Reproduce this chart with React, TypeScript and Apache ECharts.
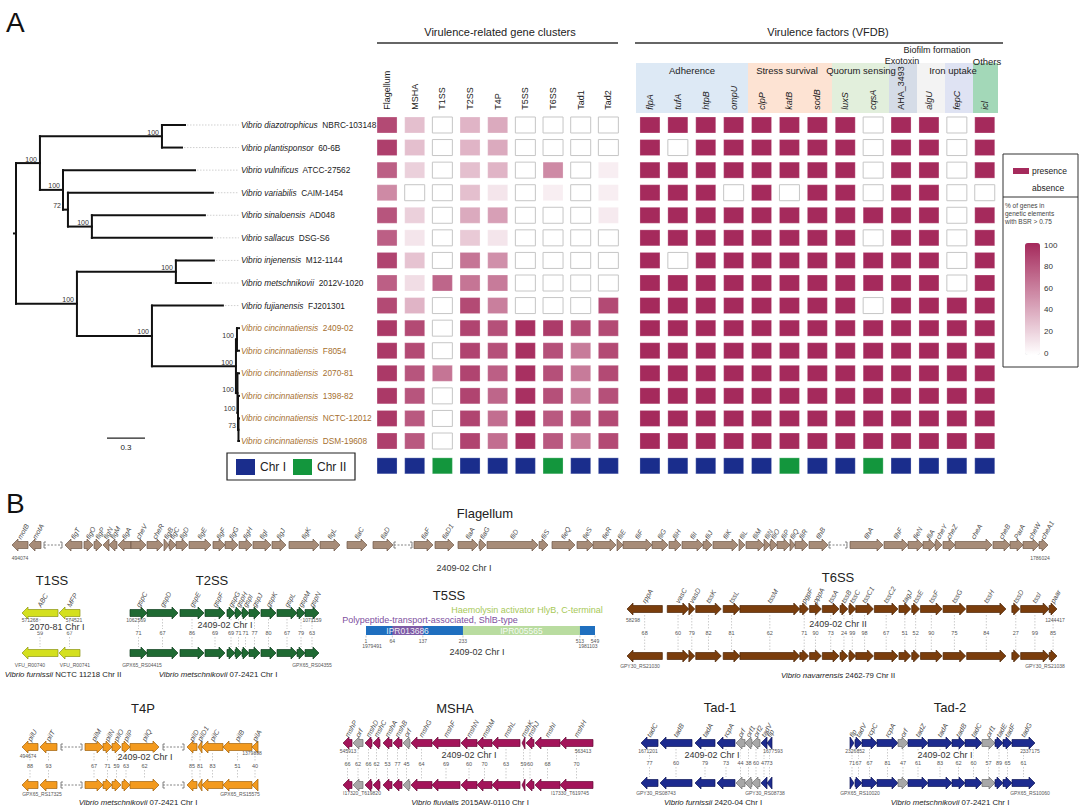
import React, { useEffect, useRef } from 'react';
import * as echarts from 'echarts';

const FONT = '"Liberation Sans", Arial, Helvetica, sans-serif';

// ================= Panel A data =================
const speciesNames = [
  'Vibrio diazotrophicus', 'Vibrio plantisponsor', 'Vibrio vulnificus', 'Vibrio variabilis',
  'Vibrio sinaloensis', 'Vibrio sallacus', 'Vibrio injenensis', 'Vibrio metschnikovii',
  'Vibrio fujianensis', 'Vibrio cincinnatiensis', 'Vibrio cincinnatiensis', 'Vibrio cincinnatiensis',
  'Vibrio cincinnatiensis', 'Vibrio cincinnatiensis', 'Vibrio cincinnatiensis',
];
const strainNames = [
  'NBRC-103148', '60-6B', 'ATCC-27562', 'CAIM-1454', 'AD048', 'DSG-S6', 'M12-1144', '2012V-1020',
  'FJ201301', '2409-02', 'F8054', '2070-81', '1398-82', 'NCTC-12012', 'DSM-19608',
];
const highlighted = [0, 0, 0, 0, 0, 0, 0, 0, 0, 1, 1, 1, 1, 1, 1];

// phylogeny: branch lengths (substitutions/site) and bootstrap support
type TNode = { len: number; boot?: string; leaf?: number; kids?: TNode[] };
const Lf = (leaf: number, len: number): TNode => ({ leaf, len });
const Nd = (len: number, boot: string, kids: TNode[]): TNode => ({ len, boot, kids });
const tree: TNode = Nd(0, '', [
  Nd(0.189, '100', [
    Nd(0.963, '100', [Lf(0, 0.182), Lf(1, 0.158)]),
    Nd(0.182, '100', [
      Lf(2, 1.042),
      Nd(0.039, '72', [Lf(3, 1.144), Nd(0.189, '100', [Lf(4, 0.892), Lf(5, 0.947)])]),
    ]),
  ]),
  Nd(0.481, '100', [
    Nd(0.781, '100', [Lf(6, 0.3), Lf(7, 0.276)]),
    Nd(0.592, '100', [
      Lf(8, 0.56),
      Nd(0.663, '100', [
        Nd(0.008, '100', [Lf(9, 0.016), Lf(10, 0.016)]),
        Nd(0.012, '100', [
          Lf(11, 0.012),
          Nd(0.004, '100', [Lf(12, 0.008), Nd(0.004, '73', [Lf(13, 0.004), Lf(14, 0.004)])]),
        ]),
      ]),
    ]),
  ]),
]);
const scaleBar = [0.718, 0.3]; // start, length

const clusterCols = ['Flagellum', 'MSHA', 'T1SS', 'T2SS', 'T4P', 'T5SS', 'T6SS', 'Tad1', 'Tad2'];
const clusterValues: number[][] = [
  [85, 30, 0, 35, 40, 0, 0, 0, 0],
  [90, 30, 0, 35, 40, 0, 0, 0, 0],
  [75, 22, 0, 30, 35, 0, 55, 0, 8],
  [55, 0, 0, 30, 12, 0, 8, 0, 8],
  [80, 22, 0, 40, 45, 0, 0, 0, 10],
  [75, 12, 0, 25, 12, 0, 0, 0, 0],
  [88, 28, 0, 65, 52, 0, 0, 0, 0],
  [75, 16, 72, 65, 62, 0, 0, 0, 0],
  [85, 35, 0, 85, 60, 0, 0, 0, 85],
  [93, 85, 0, 88, 82, 97, 92, 85, 85],
  [93, 85, 0, 88, 82, 97, 82, 62, 85],
  [93, 80, 65, 88, 75, 97, 82, 62, 85],
  [93, 80, 0, 88, 72, 97, 82, 62, 82],
  [93, 78, 0, 88, 68, 97, 78, 78, 85],
  [90, 78, 0, 88, 68, 97, 78, 62, 85],
];
const clusterChr = ['I', 'I', 'II', 'I', 'I', 'I', 'II', 'I', 'I'];

const vfdbCols = ['flpA', 'tufA', 'htpB', 'ompU', 'clpP', 'katB', 'sodB', 'luxS', 'cqsA', 'AHA_3493', 'algU', 'fepC', 'icl'];
const vfdbPresence: number[][] = [
  [1, 1, 1, 1, 1, 1, 1, 1, 0, 1, 1, 0, 1],
  [1, 0, 1, 1, 1, 1, 1, 1, 0, 1, 1, 0, 1],
  [1, 1, 1, 1, 1, 1, 1, 1, 0, 1, 1, 0, 1],
  [1, 1, 1, 0, 1, 0, 1, 1, 0, 1, 1, 0, 0],
  [1, 1, 1, 1, 1, 1, 1, 1, 1, 1, 1, 0, 1],
  [1, 1, 1, 1, 1, 1, 1, 1, 0, 1, 1, 0, 1],
  [1, 0, 1, 1, 1, 1, 1, 1, 1, 1, 1, 0, 1],
  [1, 1, 1, 1, 1, 1, 1, 1, 1, 1, 1, 0, 1],
  [1, 1, 1, 1, 1, 1, 1, 1, 0, 1, 1, 1, 1],
  [1, 1, 1, 1, 1, 1, 1, 1, 1, 1, 1, 1, 1],
  [1, 1, 1, 1, 1, 1, 1, 1, 1, 1, 1, 1, 1],
  [1, 1, 1, 1, 1, 1, 1, 1, 1, 1, 1, 1, 1],
  [1, 1, 1, 1, 1, 1, 1, 1, 1, 1, 1, 1, 1],
  [1, 1, 1, 1, 1, 1, 1, 1, 1, 1, 1, 1, 1],
  [1, 1, 1, 1, 1, 1, 1, 1, 1, 1, 1, 1, 1],
];
const vfdbChr = ['I', 'I', 'I', 'I', 'I', 'II', 'I', 'I', 'II', 'I', 'I', 'I', 'I'];
const colorbarTicks = [100, 80, 60, 40, 20, 0];

// ================= Panel B data =================
// [start, end, strand (+1 / -1, 0 = omitted region), gene, BSR %, 1 = hypothetical orf]
type Gene = [number, number, number, string, number | null, number?];
const flagellumGenes: Gene[] = [
  [0, 16, -1, 'motB', null], [17, 29, -1, 'motA', null], [31, 51, 0, '', null], [53, 70, -1, 'flgT', null],
  [72, 81, 1, 'flgO', null], [82, 90, 1, 'flgP', null], [91, 97, -1, 'flgN', null], [97, 105, -1, 'flgM', null],
  [106, 119, -1, 'flgA', null], [119, 134, 1, 'cheV', null], [135, 151, 1, 'cheR', null], [152, 157, 1, 'flgB', null],
  [157, 164, 1, 'flgC', null], [164, 176, 1, 'flgD', null], [177, 199, 1, 'flgE', null], [201, 213, 1, 'flgF', null],
  [213, 226, 1, 'flgG', null], [227, 240, 1, 'flgH', null], [241, 259, 1, 'flgI', null], [260, 274, 1, 'flgJ', null],
  [277, 307, 1, 'flgK', null], [308, 328, 1, 'flgL', null], [335, 355, 1, 'flaC', null], [361, 381, 1, 'flaD', null],
  [381, 401, 0, '', null], [402, 421, 1, 'flaF', null], [423, 442, 1, 'flaD1', null], [446, 466, 1, 'flaA', null],
  [467, 474, 1, 'flaG', null], [475, 526, 1, 'fliD', null], [527, 536, 1, 'fliS', null], [540, 563, 1, 'fleQ', null],
  [565, 581, 1, 'fleS', null], [581, 604, 1, 'fleR', null], [605, 611, 1, 'fliE', null], [611, 640, 1, 'fliF', null],
  [640, 656, 1, 'fliG', null], [657, 669, 1, 'fliH', null], [670, 691, 1, 'fliI', null], [691, 700, 1, 'fliJ', null],
  [701, 726, 1, 'fliK', null], [727, 733, 1, 'fliL', null], [734, 752, 1, 'fliM', null], [752, 758, 1, 'fliN', null],
  [758, 765, 1, 'fliO', null], [765, 778, 1, 'fliP', null], [778, 783, 1, 'fliQ', null], [783, 796, 1, 'fliR', null],
  [797, 816, 1, 'flhB', null], [816, 836, 0, '', null], [838, 871, 1, 'flhA', null], [872, 896, 1, 'flhF', null],
  [896, 911, 1, 'fleN', null], [911, 923, 1, 'fliA', null], [923, 930, 1, 'cheY', null], [931, 943, 1, 'cheZ', null],
  [943, 980, 1, 'cheA', null], [981, 998, 1, 'cheB', null], [998, 1011, 1, 'ParA', null], [1011, 1027, 1, 'cheW', null],
  [1027, 1036, 1, 'cheA1', null],
];
const t1ssGenes: Gene[] = [[0, 36, -1, 'ABC', 59], [37, 58, -1, 'MFP', 67]];
const t2ssGenes: Gene[] = [
  [0, 17, 1, 'gspC', 71], [17, 48, 1, 'gspD', 67], [50, 74, 1, 'gspE', 86], [75, 95, 1, 'gspF', 69],
  [97, 105, 1, 'gspG', 69], [105, 112, 1, 'gspH', 71], [112, 119, 1, 'gspI', 71], [119, 130, 1, 'gspJ', 77],
  [131, 146, 1, 'gspK', 80], [147, 167, 1, 'gspL', 67], [167, 175, 1, 'gspM', 79], [175, 189, 1, 'gspN', 63],
];
const t6ssGenes: Gene[] = [
  [0, 36, -1, 'rppA', 68], [41, 63, 1, 'vasC', 60], [63, 69, 1, 'vasD', 79], [70, 96, 1, 'tssK', 82],
  [98, 115, 1, 'tssL', 81], [115, 176, 1, 'tssM', 62], [176, 185, 1, 'pgpF', 71], [186, 198, 1, 'pppA', 90],
  [199, 216, 1, 'tssA', 73], [217, 225, 1, 'tssB', 24], [226, 233, 1, 'tssC', 99], [233, 251, 1, 'tssC1', 98],
  [252, 276, 1, 'tssC2', 67], [277, 289, 1, 'tagJ', 51], [290, 298, 1, 'tssE', 52], [299, 321, 1, 'tssF', 90],
  [322, 345, 1, 'tssG', 75], [346, 386, 1, 'tssH', 84], [392, 400, 1, 'tssD', 27], [401, 430, 1, 'tssI', 99],
  [430, 438, 1, 'paar', 85],
];
const t4pGenes: Gene[] = [
  [0, 16, -1, 'pilU', 88], [18, 35, -1, 'pilT', 93], [38, 61, 0, '', null], [63, 81, 1, 'pilM', 67],
  [81, 90, 1, 'pilN', 71], [90, 99, 1, 'pilO', 59], [100, 108, 1, 'pilP', 63], [108, 137, 1, 'pilQ', 62],
  [140, 163, 0, '', null], [165, 175, -1, 'pilD', 85], [176, 180, -1, 'pilD1', 81], [180, 201, -1, 'pilC', 83],
  [201, 230, -1, 'pilB', 51], [230, 236, -1, 'pilA', 40],
];
const mshaGenes: Gene[] = [
  [0, 9, -1, 'mshP', 66], [10, 20, -1, 'orf', 62, 1], [22, 29, -1, 'mshD', 66], [30, 37, -1, 'mshC', 62],
  [40, 49, -1, 'mshA', 53], [50, 59, -1, 'mshB', 77], [60, 67, -1, 'orf', 45, 1], [68, 89, -1, 'mshG', 64],
  [89, 117, -1, 'mshF', 69], [118, 134, -1, 'mshN', 60], [134, 149, -1, 'mshM', 70], [149, 177, -1, 'mshL', 63],
  [179, 182, -1, 'mshK', 59], [183, 191, -1, 'mshJ', 60], [192, 217, -1, 'mshI', 68], [217, 250, -1, 'mshH', 70],
];
const tad1Genes: Gene[] = [
  [0, 17, -1, 'tadC', 77], [19, 51, -1, 'tadB', 60], [54, 74, -1, 'tadA', 79], [76, 94, -1, 'rcpA', 73],
  [95, 104, -1, 'orf', 44, 1], [104, 111, -1, 'orf1', 38, 1], [111, 119, -1, 'orf2', 60, 1],
  [120, 126, -1, 'tadV', 47], [126, 131, -1, 'flp', 73],
];
const tad2Genes: Gene[] = [
  [0, 4, 1, 'flp', 71], [5, 12, 1, 'tadV', 67], [12, 27, 1, 'rcpC', 67], [27, 48, 1, 'rcpA', 81],
  [48, 58, 1, 'orf', 47, 1], [58, 78, 1, 'tadZ', 61], [78, 102, 1, 'tadA', 83], [102, 115, 1, 'tadB', 62],
  [115, 132, 1, 'tadC', 60], [132, 145, 1, 'orf1', 57, 1], [145, 153, 1, 'tadE', 89], [153, 162, 1, 'tadF', 65],
  [162, 185, 1, 'tadG', 61],
];
// T5SS protein (aa positions)
const t5Length = 549;
const t5Domains: [number, number, string][] = [[64, 137, 'IPR013686'], [233, 513, 'IPR005565']];
const t5Ticks = [1, 64, 137, 233, 513, 549];

// ================= styling / layout =================
const PRESENT = '#a52a5c';
const CHR_COL: Record<string, string> = { I: '#1a2d8c', II: '#13963d' };
const ROW_TOP = 113.7, ROW_H = 338.6; // rows 0..14
const CHR_ROW = 15.1;

type Cluster = { genes: Gene[]; fill: string; stroke: string; rows: number; left: number; top: number; width: number; height: number };
const clusters: Cluster[] = [
  { genes: flagellumGenes, fill: '#a78c78', stroke: '#6d5747', rows: 1, left: 12, top: 545, width: 1036, height: 40 },
  { genes: t1ssGenes, fill: '#d4e01e', stroke: '#8c9514', rows: 2, left: 22, top: 613, width: 58, height: 40 },
  { genes: t2ssGenes, fill: '#1f6a33', stroke: '#0f3d1c', rows: 2, left: 130, top: 613, width: 189, height: 40 },
  { genes: t6ssGenes, fill: '#7a3d0c', stroke: '#4a2406', rows: 2, left: 627, top: 609, width: 430, height: 47 },
  { genes: t4pGenes, fill: '#f39a1e', stroke: '#a0620d', rows: 2, left: 22, top: 747, width: 236, height: 38 },
  { genes: mshaGenes, fill: '#a3145a', stroke: '#650a37', rows: 2, left: 343, top: 743, width: 250, height: 42 },
  { genes: tad1Genes, fill: '#1d2b8f', stroke: '#0e1656', rows: 2, left: 641, top: 743, width: 131, height: 40 },
  { genes: tad2Genes, fill: '#1d2b8f', stroke: '#0e1656', rows: 2, left: 850, top: 743, width: 185, height: 40 },
];

function lerpColor(v: number) {
  const t = Math.max(0, Math.min(1, v / 100));
  const r = Math.round(255 + (165 - 255) * t), g = Math.round(255 + (42 - 255) * t), b = Math.round(255 + (92 - 255) * t);
  return `rgb(${r},${g},${b})`;
}

function txt(text: string, x: number, y: number, size: number, extra: any = {}) {
  const align = extra.align || 'center';
  const valign = extra.valign || 'middle';
  return {
    type: 'text', x, y, z: extra.z ?? 50, rotation: extra.rotation || 0,
    style: {
      text, fontSize: size, fontFamily: FONT, fill: extra.fill || '#222', fontStyle: extra.italic ? 'italic' : 'normal',
      textAlign: align, textVerticalAlign: valign, align, verticalAlign: valign,
      rich: extra.rich, backgroundColor: extra.bg, padding: extra.bg ? [0, 1] : undefined,
    },
  };
}
function spec(a: string, b: string, x: number, y: number, size: number, fill = '#222') {
  return txt(`{i|${a}} ${b}`, x, y, size, {
    fill, rich: { i: { fontStyle: 'italic', fontSize: size, fontFamily: FONT, fill } },
  });
}

function arrowPts(xa: number, xb: number, y: number, dir: number, h1: number, h2: number, hl: number) {
  const len = xb - xa;
  const L = Math.min(hl, len);
  if (dir > 0) {
    if (len <= hl) return [[xa, y - h2], [xb, y], [xa, y + h2]];
    return [[xa, y - h1], [xb - L, y - h1], [xb - L, y - h2], [xb, y], [xb - L, y + h2], [xb - L, y + h1], [xa, y + h1]];
  }
  if (len <= hl) return [[xb, y - h2], [xa, y], [xb, y + h2]];
  return [[xb, y - h1], [xa + L, y - h1], [xa + L, y - h2], [xa, y], [xa + L, y + h2], [xa + L, y + h1], [xb, y + h1]];
}

function geneRenderer(cl: Cluster) {
  return (params: any, api: any) => {
    const g = cl.genes[params.dataIndex];
    const [s, e, dir, name, bsr, orf] = g;
    const xa = api.coord([s, 0])[0], xb = api.coord([e, 0])[0];
    const y0 = api.coord([0, 0])[1], y1 = api.coord([0, 1])[1];
    const rowsY = cl.rows === 2 ? [y0, y1] : [y0];
    const children: any[] = [];
    if (dir === 0) {
      for (const y of rowsY) {
        children.push({ type: 'line', shape: { x1: xa + 1, y1: y, x2: xb - 1, y2: y }, style: { stroke: '#666', lineWidth: 0.8, lineDash: [2, 1.5] } });
        children.push({ type: 'polyline', shape: { points: [[xa + 3, y - 3], [xa + 1, y - 3], [xa + 1, y + 3], [xa + 3, y + 3]] }, style: { stroke: '#666', lineWidth: 0.8, fill: null } });
        children.push({ type: 'polyline', shape: { points: [[xb - 3, y - 3], [xb - 1, y - 3], [xb - 1, y + 3], [xb - 3, y + 3]] }, style: { stroke: '#666', lineWidth: 0.8, fill: null } });
      }
      return { type: 'group', children };
    }
    const fill = orf ? '#a8a8a8' : cl.fill;
    const stroke = orf ? '#6f6f6f' : cl.stroke;
    const cx = (xa + xb) / 2;
    if (cl.rows === 2 && bsr != null) {
      const ym = (y0 + y1) / 2;
      children.push({ type: 'line', shape: { x1: cx, y1: y0 + 6, x2: cx, y2: ym - 4 }, style: { stroke: '#aaa', lineWidth: 0.6, lineDash: [1.5, 1.5] } });
      children.push({ type: 'line', shape: { x1: cx, y1: ym + 4, x2: cx, y2: y1 - 6 }, style: { stroke: '#aaa', lineWidth: 0.6, lineDash: [1.5, 1.5] } });
      children.push({ type: 'text', x: cx, y: ym, style: { text: String(bsr), fontSize: 5.5, fontFamily: FONT, fill: '#555', textAlign: 'center', textVerticalAlign: 'middle', align: 'center', verticalAlign: 'middle' } });
    }
    for (const y of rowsY) {
      children.push({ type: 'polygon', shape: { points: arrowPts(xa, xb, y, dir, 3.5, 6, 6) }, style: { fill, stroke, lineWidth: 0.7 } });
    }
    children.push({
      type: 'text', x: cx - 1, y: y0 - 6.5, rotation: Math.PI / 3,
      style: { text: name, fontSize: 7, fontStyle: 'italic', fontFamily: FONT, fill: '#4a4a4a', textAlign: 'left', textVerticalAlign: 'middle', align: 'left', verticalAlign: 'middle' },
    });
    return { type: 'group', children };
  };
}

// ---------- tree layout ----------
const treeSegs: number[][] = [];
const treeBoots: { x: number; y: number; px: number; text: string }[] = [];
const leafTips: number[][] = [];
function layoutTree(n: TNode, px: number): number {
  const x = px + n.len;
  if (n.leaf !== undefined) {
    treeSegs.push([px, n.leaf, x, n.leaf]);
    leafTips.push([x, n.leaf]);
    return n.leaf;
  }
  const ys = n.kids!.map((k) => layoutTree(k, x));
  const y = (ys[0] + ys[ys.length - 1]) / 2;
  treeSegs.push([x, ys[0], x, ys[ys.length - 1]]);
  if (n.len > 0) treeSegs.push([px, y, x, y]);
  if (n.boot) treeBoots.push({ x, y, px, text: n.boot });
  return y;
}
const rootY = layoutTree(tree, 0);
treeSegs.push([-0.016, rootY, 0, rootY]);
const LABEL_X = 1.775;

function buildOption() {
  const grids: any[] = [];
  const xAxes: any[] = [];
  const yAxes: any[] = [];
  const series: any[] = [];
  const rowY = { type: 'value', min: -0.5, max: 14.5, inverse: true, show: false };

  // grid 0 - tree
  grids.push({ left: 16, top: ROW_TOP, width: 253.4, height: ROW_H });
  xAxes.push({ gridIndex: 0, type: 'value', min: 0, max: 2, show: false });
  yAxes.push({ gridIndex: 0, ...rowY });
  // grid 1 - clusters
  grids.push({ left: 373.2, top: ROW_TOP, width: 249, height: ROW_H });
  const catAxis = (gi: number, data: string[], italic: boolean) => ({
    gridIndex: gi, type: 'category', data, position: 'top',
    axisLine: { show: false }, axisTick: { show: false }, splitLine: { show: false },
    axisLabel: {
      rotate: 90, margin: 4, fontSize: 9, fontFamily: FONT, color: '#222', interval: 0,
      formatter: (v: string) => (italic && v !== 'AHA_3493' ? `{i|${v}}` : `{n|${v}}`),
      rich: { i: { fontStyle: 'italic', fontSize: 9, fontFamily: FONT, color: '#222' }, n: { fontSize: 9, fontFamily: FONT, color: '#222' } },
    },
  });
  xAxes.push(catAxis(1, clusterCols, false));
  yAxes.push({ gridIndex: 1, ...rowY });
  // grid 2 - VFDB
  grids.push({ left: 636, top: ROW_TOP, width: 362.7, height: ROW_H });
  xAxes.push(catAxis(2, vfdbCols, true));
  yAxes.push({ gridIndex: 2, ...rowY });

  // tree branches
  series.push({
    type: 'custom', xAxisIndex: 0, yAxisIndex: 0, silent: true, z: 3,
    data: treeSegs, encode: { x: [0, 2], y: [1, 3] },
    renderItem: (p: any, api: any) => {
      const s = treeSegs[p.dataIndex];
      const a = api.coord([s[0], s[1]]), b = api.coord([s[2], s[3]]);
      return { type: 'line', shape: { x1: a[0], y1: a[1], x2: b[0], y2: b[1] }, style: { stroke: '#111', lineWidth: 2, lineCap: 'square' } };
    },
  });
  // bootstrap
  series.push({
    type: 'custom', xAxisIndex: 0, yAxisIndex: 0, silent: true, z: 4,
    data: treeBoots.map((b) => [b.x, b.y, b.px]), encode: { x: 0, y: 1 },
    renderItem: (p: any, api: any) => {
      const b = treeBoots[p.dataIndex];
      const n = api.coord([b.x, b.y]);
      const par = api.coord([b.px, b.y]);
      const rx = n[0] - par[0] < 10 ? par[0] - 2 : n[0] - 3;
      return { type: 'text', x: rx, y: n[1] - 4, style: { text: b.text, fontSize: 7, fontFamily: FONT, fill: '#333', textAlign: 'right', textVerticalAlign: 'middle', align: 'right', verticalAlign: 'middle' } };
    },
  });
  // leaves + labels
  series.push({
    type: 'custom', xAxisIndex: 0, yAxisIndex: 0, silent: true, z: 4,
    data: leafTips, encode: { x: 0, y: 1 },
    renderItem: (p: any, api: any) => {
      const [tx, row] = leafTips[p.dataIndex];
      const a = api.coord([tx, row]);
      const lx = api.coord([LABEL_X, row])[0];
      const col = highlighted[row] ? '#a6702f' : '#222';
      const children: any[] = [];
      if (lx - a[0] > 4) children.push({ type: 'line', shape: { x1: a[0] + 2, y1: a[1], x2: lx - 2, y2: a[1] }, style: { stroke: '#c4c4c4', lineWidth: 0.8, lineDash: [1.5, 1.5] } });
      children.push({
        type: 'text', x: lx, y: a[1],
        style: {
          text: `{i|${speciesNames[row]}}  ${strainNames[row]}`, fontSize: 8.3, fontFamily: FONT, fill: col,
          textAlign: 'left', textVerticalAlign: 'middle', align: 'left', verticalAlign: 'middle',
          rich: { i: { fontStyle: 'italic', fontSize: 8.3, fontFamily: FONT, fill: col } },
        },
      });
      return { type: 'group', children };
    },
  });
  // scale bar
  series.push({
    type: 'custom', xAxisIndex: 0, yAxisIndex: 0, silent: true, z: 4,
    data: [[scaleBar[0], 13.87, scaleBar[0] + scaleBar[1]]], encode: { x: [0, 2], y: 1 },
    renderItem: (p: any, api: any) => {
      const a = api.coord([scaleBar[0], 13.87]), b = api.coord([scaleBar[0] + scaleBar[1], 13.87]);
      return {
        type: 'group', children: [
          { type: 'line', shape: { x1: a[0], y1: a[1], x2: b[0], y2: b[1] }, style: { stroke: '#222', lineWidth: 1.2 } },
          { type: 'text', x: (a[0] + b[0]) / 2, y: a[1] + 9, style: { text: String(scaleBar[1]), fontSize: 8, fontFamily: FONT, fill: '#222', textAlign: 'center', textVerticalAlign: 'middle', align: 'center', verticalAlign: 'middle' } },
        ],
      };
    },
  });

  const cellSeries = (gi: number, data: number[][], colorFn: (v: number, api: any) => string, useVisual: boolean) => ({
    type: 'custom', xAxisIndex: gi, yAxisIndex: gi, silent: true, z: 3, data, encode: { x: 0, y: 1 },
    renderItem: (p: any, api: any) => {
      const pt = api.coord([api.value(0), api.value(1)]);
      const v = api.value(2);
      let c = colorFn(v, api);
      if (useVisual) { const vc = api.visual('color'); if (typeof vc === 'string') c = vc; }
      return { type: 'rect', shape: { x: pt[0] - 10, y: pt[1] - 8, width: 20, height: 16 }, style: { fill: c, stroke: v <= 0 ? '#c6c6c6' : 'rgba(255,255,255,0.25)', lineWidth: 1 } };
    },
  });
  const clusterData: number[][] = [];
  clusterValues.forEach((row, r) => row.forEach((v, c) => clusterData.push([c, r, v])));
  series.push(cellSeries(1, clusterData, (v) => lerpColor(v), true));
  const clusterVisualIndex = series.length - 1;
  series.push(cellSeries(1, clusterChr.map((ch, c) => [c, CHR_ROW, ch === 'I' ? 1 : 2]), (v) => (v === 1 ? CHR_COL.I : CHR_COL.II), false));
  const vfData: number[][] = [];
  vfdbPresence.forEach((row, r) => row.forEach((v, c) => vfData.push([c, r, v])));
  series.push(cellSeries(2, vfData, (v) => (v > 0 ? PRESENT : '#ffffff'), false));
  series.push(cellSeries(2, vfdbChr.map((ch, c) => [c, CHR_ROW, ch === 'I' ? 1 : 2]), (v) => (v === 1 ? CHR_COL.I : CHR_COL.II), false));

  // gene clusters
  clusters.forEach((cl) => {
    const gi = grids.length;
    grids.push({ left: cl.left, top: cl.top, width: cl.width, height: cl.height });
    xAxes.push({ gridIndex: gi, type: 'value', min: 0, max: cl.genes[cl.genes.length - 1][1], show: false });
    yAxes.push({ gridIndex: gi, type: 'value', min: 0, max: 1, inverse: true, show: false });
    series.push({
      type: 'custom', xAxisIndex: gi, yAxisIndex: gi, silent: true, z: 3,
      data: cl.genes.map((g) => [g[0], g[1], 0]), encode: { x: [0, 1], y: 2 },
      renderItem: geneRenderer(cl),
    });
  });
  // T5SS protein
  {
    const gi = grids.length;
    grids.push({ left: 366, top: 630.5, width: 229, height: 10 });
    xAxes.push({ gridIndex: gi, type: 'value', min: 1, max: t5Length, show: false });
    yAxes.push({ gridIndex: gi, type: 'value', min: 0, max: 1, inverse: true, show: false });
    const items: number[][] = [[1, t5Length, 0], ...t5Domains.map((d, i) => [d[0], d[1], i + 1])];
    series.push({
      type: 'custom', xAxisIndex: gi, yAxisIndex: gi, silent: true, z: 3, data: items, encode: { x: [0, 1], y: 2 },
      renderItem: (p: any, api: any) => {
        const it = items[p.dataIndex];
        const a = api.coord([it[0], 0]), b = api.coord([it[1], 0]);
        const fills = ['#1f6fbf', '#7d5ba6', '#b9dca0'];
        const children: any[] = [{ type: 'rect', shape: { x: a[0], y: a[1] - 4.5, width: b[0] - a[0], height: 9 }, style: { fill: fills[it[2]] } }];
        if (it[2] > 0) {
          children.push({ type: 'text', x: (a[0] + b[0]) / 2, y: a[1], z2: 5, style: { text: t5Domains[it[2] - 1][2], fontSize: 8.5, fontFamily: FONT, fill: 'rgba(255,255,255,0.9)', textAlign: 'center', textVerticalAlign: 'middle', align: 'center', verticalAlign: 'middle' } });
        }
        if (p.dataIndex === 0) {
          t5Ticks.forEach((t) => {
            const tx = api.coord([t, 0])[0];
            children.push({ type: 'line', shape: { x1: tx, y1: a[1] + 5, x2: tx, y2: a[1] + 7 }, style: { stroke: '#888', lineWidth: 0.5 } });
            children.push({ type: 'text', x: tx, y: a[1] + 10, style: { text: String(t), fontSize: 5, fontFamily: FONT, fill: '#555', textAlign: 'center', textVerticalAlign: 'middle', align: 'center', verticalAlign: 'middle' } });
          });
        }
        return { type: 'group', children };
      },
    });
  }

  // ---------- graphic ----------
  const gr: any[] = [];
  gr.push(txt('A', 6, 22, 28, { align: 'left', fill: '#111' }));
  gr.push(txt('B', 6, 503, 28, { align: 'left', fill: '#111' }));
  gr.push(txt('Virulence-related gene clusters', 500, 32, 11));
  gr.push({ type: 'line', shape: { x1: 377, y1: 43, x2: 618, y2: 43 }, style: { stroke: '#333', lineWidth: 1.3 } });
  gr.push(txt('Virulence factors (VFDB)', 828, 32, 11));
  gr.push({ type: 'line', shape: { x1: 635, y1: 43, x2: 1003, y2: 43 }, style: { stroke: '#333', lineWidth: 1.3 } });
  const bands: [number, number, string][] = [
    [636, 112, '#dde9f5'], [748, 84, '#fde3d3'], [832, 57, '#e2efdc'], [889, 28, '#d5dce7'],
    [917, 28, '#f3f3f3'], [945, 28, '#dfe3f3'], [973, 25, '#a3d8b8'],
  ];
  bands.forEach(([x, w, c]) => gr.push({ type: 'rect', z: -10, shape: { x, y: 63, width: w, height: 50 }, style: { fill: c } }));
  gr.push(txt('Adherence', 692, 70, 9.5));
  gr.push(txt('Stress survival', 787, 70, 9.5));
  gr.push(txt('Quorum sensing', 861, 70, 9.5));
  gr.push(txt('Exotoxin', 902, 60.5, 9));
  gr.push(txt('Biofilm formation', 937, 50, 9));
  gr.push(txt('Iron uptake', 953, 70, 9.5));
  gr.push(txt('Others', 987, 61, 9.5));

  // Chr legend
  gr.push({ type: 'rect', shape: { x: 227, y: 453, width: 128, height: 27 }, style: { fill: 'none', stroke: '#222', lineWidth: 1.2 } });
  gr.push({ type: 'rect', shape: { x: 236, y: 459, width: 19, height: 16 }, style: { fill: CHR_COL.I } });
  gr.push(txt('Chr I', 260, 467, 12, { align: 'left' }));
  gr.push({ type: 'rect', shape: { x: 293, y: 459, width: 19, height: 16 }, style: { fill: CHR_COL.II } });
  gr.push(txt('Chr II', 317, 467, 12, { align: 'left' }));

  // right legend
  gr.push({ type: 'rect', shape: { x: 1003, y: 154, width: 75, height: 213 }, style: { fill: 'none', stroke: '#333', lineWidth: 1 } });
  gr.push({ type: 'line', shape: { x1: 1003, y1: 197, x2: 1078, y2: 197 }, style: { stroke: '#333', lineWidth: 1 } });
  gr.push({ type: 'rect', shape: { x: 1013, y: 168, width: 16, height: 6 }, style: { fill: PRESENT } });
  gr.push(txt('presence', 1032, 171, 8.5, { align: 'left' }));
  gr.push(txt('absence', 1032, 188, 8.5, { align: 'left' }));
  gr.push(txt('% of genes in', 1005, 205, 6.5, { align: 'left', fill: '#444' }));
  gr.push(txt('genetic elements', 1005, 213, 6.5, { align: 'left', fill: '#444' }));
  gr.push(txt('with BSR > 0.75', 1005, 221, 6.5, { align: 'left', fill: '#444' }));
  colorbarTicks.forEach((t) => gr.push(txt(String(t), 1044, 245 + (100 - t) * 1.08, 8, { align: 'left', fill: '#333' })));

  // panel B texts
  const titles: [string, number, number][] = [
    ['Flagellum', 485, 513], ['T1SS', 52, 580], ['T2SS', 212, 580], ['T5SS', 449, 595], ['T6SS', 838, 577],
    ['T4P', 143, 708], ['MSHA', 455, 708], ['Tad-1', 720, 707], ['Tad-2', 950, 707],
  ];
  titles.forEach(([t, x, y]) => gr.push(txt(t, x, y, 13, { fill: '#222' })));
  const locus: [string, number, number][] = [
    ['2409-02 Chr I', 464, 568], ['2070-81 Chr I', 57, 627], ['2409-02 Chr I', 225, 625], ['2409-02 Chr I', 477, 652],
    ['2409-02 Chr II', 838, 624], ['2409-02 Chr I', 145, 757], ['2409-02 Chr I', 469, 755], ['2409-02 Chr I', 712, 755],
    ['2409-02 Chr I', 945, 755],
  ];
  locus.forEach(([t, x, y]) => gr.push(txt(t, x, y, 9, { fill: '#333', bg: '#ffffff', z: 60 })));
  const tiny: [string, number, number][] = [
    ['494074', 20, 558], ['1786024', 1040, 558], ['571268', 30, 620], ['574521', 74, 620],
    ['1062569', 136, 620], ['1071159', 312, 620], ['1979491', 372, 646], ['1981103', 588, 646],
    ['58298', 633, 620], ['1244417', 1055, 620], ['494674', 28, 756], ['1379898', 252, 753],
    ['545913', 348, 751], ['563413', 583, 751], ['1671201', 648, 751], ['1677593', 773, 751],
    ['2326852', 855, 751], ['2337175', 1030, 751],
    ['VFU_R00740', 30, 665], ['VFU_R00741', 75, 665], ['GPX65_RS04415', 142, 665], ['GPX65_RS04355', 312, 665],
    ['GPY30_RS21030', 640, 666], ['GPY30_RS21038', 1045, 666], ['GPX65_RS17325', 42, 794], ['GPX65_RS15575', 240, 794],
    ['I17320_T619820', 362, 793], ['I17330_T619745', 570, 793], ['GPY30_RS08743', 656, 793], ['GPY30_RS08738', 765, 793],
    ['GPX65_RS10020', 860, 793], ['GPX65_RS10060', 1030, 793],
  ];
  tiny.forEach(([t, x, y]) => gr.push(txt(t, x, y, 5, { fill: '#555' })));
  const sp: [string, string, number, number][] = [
    ['Vibrio furnissii', 'NCTC 11218 Chr II', 63, 674], ['Vibrio metschnikovii', '07-2421 Chr I', 218, 674],
    ['Vibrio navarrensis', '2462-79 Chr II', 838, 675], ['Vibrio metschnikovii', '07-2421 Chr I', 138, 802],
    ['Vibrio fluvialis', '2015AW-0110 Chr I', 470, 802], ['Vibrio furnissii', '2420-04 Chr I', 713, 802],
    ['Vibrio metschnikovii', '07-2421 Chr I', 950, 802],
  ];
  sp.forEach(([a, b, x, y]) => gr.push(spec(a, b, x, y, 7.8)));
  gr.push(txt('Haemolysin activator HlyB, C-terminal', 527, 610, 9, { fill: '#a7c957' }));
  gr.push(txt('Polypeptide-transport-associated, ShlB-type', 430, 620, 9, { fill: '#7e4fa0' }));

  return {
    animation: false,
    backgroundColor: '#ffffff',
    textStyle: { fontFamily: FONT },
    grid: grids,
    xAxis: xAxes,
    yAxis: yAxes,
    visualMap: [{
      type: 'continuous', seriesIndex: clusterVisualIndex, dimension: 2, min: 0, max: 100,
      inRange: { color: ['#ffffff', PRESENT] }, orient: 'vertical', left: 1025, top: 243,
      itemWidth: 15, itemHeight: 112, calculable: false, padding: 0, hoverLink: false,
    }],
    series,
    graphic: { elements: gr },
  };
}

export default function App() {
  const ref = useRef<HTMLDivElement>(null);
  useEffect(() => {
    const chart = echarts.init(ref.current!, null, { renderer: 'svg' });
    chart.setOption(buildOption() as any);
    return () => chart.dispose();
  }, []);
  return <div ref={ref} style={{ position: 'absolute', left: 0, top: 0, width: 1082, height: 810, background: '#fff' }} />;
}
